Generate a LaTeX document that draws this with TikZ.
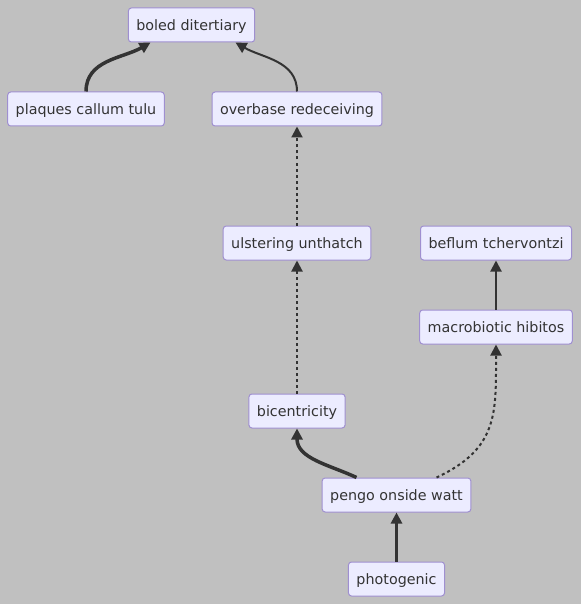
\documentclass[tikz,border=0pt]{standalone}
\usepackage{fontspec}
\setmainfont{DejaVu Sans}
\usetikzlibrary{arrows.meta}
\definecolor{bgcol}{HTML}{C0C0C0}
\definecolor{boxfill}{HTML}{ECECFF}
\definecolor{boxline}{HTML}{9F8FD0}
\definecolor{inkcol}{HTML}{333333}
\tikzset{
	item/.style={draw=boxline, fill=boxfill, line width=1pt, rounded corners=3pt,
		minimum height=34pt, inner xsep=8pt, text height=12pt, text depth=0.5pt,
		text=inkcol, font=\fontsize{14.3}{16}\selectfont},
	link/.style={draw=inkcol, line width=2pt, -{Triangle[length=11pt,width=11pt]}},
	boldlink/.style={link, line width=3.5pt},
	dotlink/.style={link, dash pattern=on 3pt off 3pt},
}
\begin{document}
\begin{tikzpicture}[x=1pt,y=-1pt]
	\fill[bgcol] (0,0) rectangle (581,604);
	\node[item] (boled) at (191.5,25) {boled ditertiary};
	\node[item] (plaques) at (86,109) {plaques callum tulu};
	\node[item] (overbase) at (297,109) {overbase redeceiving};
	\node[item] (ulstering) at (297,243) {ulstering unthatch};
	\node[item] (beflum) at (496,243) {beflum tchervontzi};
	\node[item] (macro) at (496,327) {macrobiotic hibitos};
	\node[item] (bicent) at (297,411) {bicentricity};
	\node[item] (pengo) at (396.5,495) {pengo onside watt};
	\node[item] (photo) at (396.5,579) {photogenic};
	% edges
	\draw[boldlink] (plaques.north) to[out=90,in=-150] ([xshift=-41pt]boled.south);
	\draw[link] (overbase.north) to[out=90,in=-30] ([xshift=44pt]boled.south);
	\draw[dotlink] (ulstering) -- (overbase);
	\draw[dotlink] (bicent) -- (ulstering);
	\draw[boldlink] ([xshift=-40pt]pengo.north) to[out=155,in=-90] (bicent.south);
	\draw[dotlink] ([xshift=40pt]pengo.north) to[out=25,in=-90,looseness=1.2] (macro.south);
	\draw[link] (macro) -- (beflum);
	\draw[boldlink] (photo) -- (pengo);
\end{tikzpicture}
\end{document}
